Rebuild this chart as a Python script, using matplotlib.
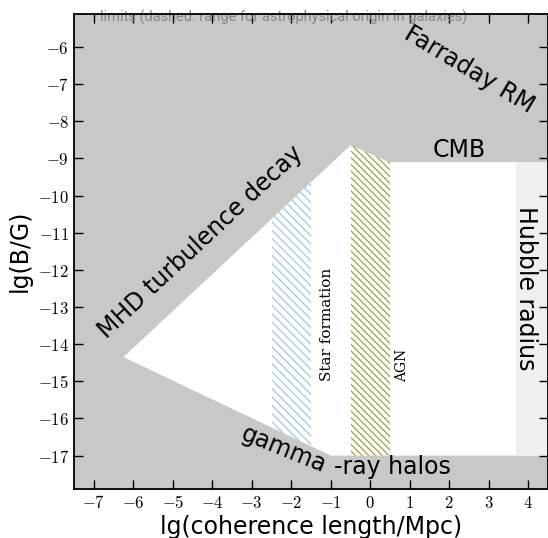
import matplotlib
matplotlib.use("Agg")
import matplotlib.pyplot as plt
from matplotlib.patches import Polygon, Rectangle

plt.rcParams['mathtext.fontset'] = 'cm'
plt.rcParams['hatch.linewidth'] = 0.9

# allowed region (white polygon) in lg(L/Mpc), lg(B/G)
region_x = [-6.25, -0.5, 0.5, 3.7, 3.7, -1.0]
region_y = [-14.35, -8.65, -9.1, -9.1, -17.0, -17.0]
# Hubble radius band
hubble_x = [3.7, 4.5]
hubble_y = [-17.0, -9.1]
# astrophysical ranges (hatched)
star_x = [-2.5, -1.5]
agn_x = [-0.5, 0.5]
band_y = [-18.0, -8.0]

xticks = list(range(-7, 5))
yticks = list(range(-17, -5))

fig = plt.figure(figsize=(5.48, 5.38), dpi=100)
ax = fig.add_axes([74/548, 49/538, 1 - 74/548, (489 - 13.5)/538])
ax.set_xlim(-7.5, 4.5)
ax.set_ylim(-17.9, -5.1)
ax.set_facecolor('#c8c8c8')

region = Polygon(list(zip(region_x, region_y)), closed=True, facecolor='white',
                 edgecolor='none', zorder=1)
ax.add_patch(region)
ax.add_patch(Rectangle((hubble_x[0], hubble_y[0]), hubble_x[1] - hubble_x[0],
                       hubble_y[1] - hubble_y[0], facecolor='#efefef',
                       edgecolor='none', zorder=1))

for xs, col, hatch in [(star_x, '#99c8f0', '\\\\\\\\'), (agn_x, '#a0a040', '\\\\\\\\\\')]:
    p = Rectangle((xs[0], band_y[0]), xs[1] - xs[0], band_y[1] - band_y[0],
                  facecolor='none', edgecolor=col, hatch=hatch, lw=0, zorder=2)
    ax.add_patch(p)
    p.set_clip_path(region)

fs = 17
ax.text(2.5, -6.6, 'Farraday RM', rotation=-31, fontsize=fs, ha='center', va='center')
ax.text(2.25, -8.78, 'CMB', fontsize=fs, ha='center', va='center')
ax.text(-4.3, -11.25, 'MHD turbulence decay', rotation=43, fontsize=fs,
        ha='center', va='center')
ax.text(-2.2, -16.84, 'gamma', rotation=-22, fontsize=fs, ha='center', va='center')
ax.text(0.55, -17.32, '-ray halos', fontsize=fs, ha='center', va='center')
ax.text(3.95, -12.5, 'Hubble radius', rotation=-90, fontsize=fs,
        ha='center', va='center')
ax.text(-1.09, -13.47, 'Star formation', rotation=90, fontsize=11,
        family='DejaVu Serif', ha='center', va='center')
ax.text(0.80, -14.58, 'AGN', rotation=90, fontsize=10,
        family='DejaVu Serif', ha='center', va='center')
ax.text(-6.83, -5.2, 'limits (dashed: range for astrophysical origin in galaxies)',
        fontsize=10.5, color='#858585', ha='left', va='center',
        family=['Roboto', 'DejaVu Sans'], clip_on=False, zorder=5)

ax.set_xticks(xticks)
ax.set_xticklabels([f'${v}$' for v in xticks])
ax.set_yticks(yticks)
ax.set_yticklabels([f'${v}$' for v in yticks])
ax.tick_params(direction='in', top=True, right=True, length=6.5, width=1,
               labelsize=12)
for s in ax.spines.values():
    s.set_linewidth(1.3)
    s.set_zorder(6)

ax.set_xlabel('lg(coherence length/Mpc)', fontsize=17, labelpad=2)
ax.set_ylabel('lg(B/G)', fontsize=17, labelpad=4)

fig.savefig('out.png', dpi=100)
